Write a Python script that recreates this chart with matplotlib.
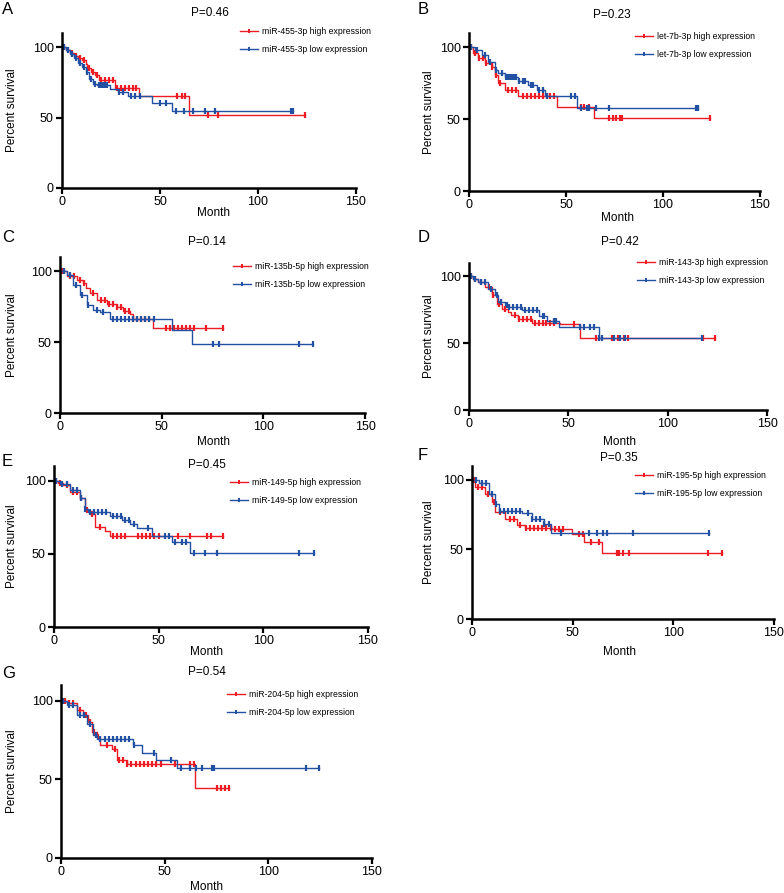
import numpy as np
import matplotlib
matplotlib.use("Agg")
import matplotlib.pyplot as plt
from matplotlib.lines import Line2D

plt.rcParams['font.family'] = ['Liberation Sans', 'DejaVu Sans']

RED = '#ec1c24'
BLUE = '#2251a3'

letters = ['A', 'B', 'C', 'D', 'E', 'F', 'G']
mirnas = ['miR-455-3p', 'let-7b-3p', 'miR-135b-5p', 'miR-143-3p',
          'miR-149-5p', 'miR-195-5p', 'miR-204-5p']
pvalues = ['0.46', '0.23', '0.14', '0.42', '0.45', '0.35', '0.54']

# step times / survival (%) for each panel, high and low expression groups
high_t = [
    [0, 2, 4, 6, 8, 10, 12, 13, 15, 17, 19, 27, 39.5, 64.8, 124],
    [0, 2, 4.8, 8, 11.7, 13.4, 15.1, 18.6, 25.4, 45.5, 64.6, 124.2],
    [0, 3.3, 8.2, 11.5, 13, 14.8, 18, 23, 27.9, 31, 34.4, 36, 45.6, 80],
    [0, 2, 4.7, 8.1, 11.4, 14, 16.5, 19.8, 21, 24.9, 31.6, 45.9, 56, 124],
    [0, 2, 4.5, 7.7, 12.4, 14.8, 17.2, 19.6, 24.4, 26.8, 80.5],
    [0, 1.7, 6.6, 10, 11.6, 16.6, 22.4, 26.5, 39.8, 49.8, 55.6, 64.7, 124.4],
    [0, 2.7, 7.6, 10.8, 13.2, 14.8, 17.2, 18.8, 24.5, 26.9, 31.7, 64.7, 80.8],
]
high_s = [
    [100, 98, 96, 94, 92, 91, 88, 85, 82, 80, 76.5, 71, 65.5, 51.5, 51.5],
    [100, 96, 92.3, 89, 86.5, 80.7, 74.9, 70.3, 66, 58.7, 50.6, 50.6],
    [100, 96.5, 94, 91.7, 88, 84.6, 79.9, 76.8, 74.5, 71.9, 69.5, 66, 59.8, 59.8],
    [100, 98, 95.8, 92, 85.8, 79.6, 75.9, 73.4, 71, 68, 65.4, 64.2, 53.7, 53.7],
    [100, 98.5, 97, 92.4, 87.8, 79.7, 77.4, 68.2, 65.6, 62, 62],
    [100, 95, 90.2, 84, 76.7, 72, 67.6, 65.7, 65, 61, 55.5, 47.8, 47.8],
    [100, 98.3, 94, 90.8, 86.5, 80, 76.9, 71.6, 69, 62.6, 59.8, 44.4, 44.4],
]
low_t = [
    [0, 2, 4, 6, 8, 10, 12, 14, 16, 18, 24.5, 28.7, 33.8, 45.7, 56, 118],
    [0, 3, 6.5, 10, 13.4, 15, 18.6, 25.4, 30.6, 35, 39.2, 55.5, 117.9],
    [0, 3.3, 6.6, 9.8, 13.1, 16.4, 19.7, 24.6, 54.9, 64.8, 124.3],
    [0, 2, 4.7, 9.7, 13.1, 14.8, 18.1, 20, 26.6, 35, 39.2, 45.4, 65.2, 117.3],
    [0, 2.9, 7.7, 12.4, 14.8, 16.4, 26.8, 32.4, 36.4, 39.6, 46.7, 56.3, 65, 124],
    [0, 3.3, 8.3, 11.6, 13.3, 24.9, 29.9, 35.7, 39, 117.8],
    [0, 2.7, 7.6, 12.4, 15.6, 17.2, 34.9, 39, 45.7, 55.9, 124.3],
]
low_s = [
    [100, 98, 95, 92, 89, 86, 82, 77, 74, 73, 70, 68, 65.5, 60.5, 54.5, 54.5],
    [100, 98, 94.6, 90, 84.2, 82, 79.5, 76.6, 73.5, 70.3, 66, 57.5, 57.5],
    [100, 97.6, 90.5, 83.5, 76.4, 72.8, 70.9, 66, 58.6, 48.5, 48.5],
    [100, 98, 95.8, 90.8, 85.8, 80.8, 78.4, 76.9, 74.6, 70.4, 66.7, 62.2, 53.7, 53.7],
    [100, 98, 93.5, 87.8, 80.8, 78.5, 75.8, 73, 70.6, 67.4, 62, 58, 50.6, 50.6],
    [100, 97.5, 90.2, 82.8, 78, 76, 72, 68, 62, 62],
    [100, 97.2, 90.8, 85.5, 78, 75.4, 71.8, 67, 62, 57.3, 57.3],
]

# censored observation times
high_c = [
    [1, 3, 5, 7, 9, 11, 14, 16, 18, 20, 22, 24, 26, 28, 30, 32, 34, 36, 38,
     58.5, 61, 62.8, 74.7, 79.8, 124],
    [1, 3, 5, 7, 9, 12, 14, 16, 20, 22, 24, 28, 30, 32, 34, 36, 38, 40, 42, 44,
     57.5, 59.5, 61.7, 72, 74, 76, 78, 79, 124],
    [1, 2, 5, 7, 10, 12, 16, 20, 22, 24, 26, 28, 30, 32, 34, 36, 38, 40, 42, 44,
     52, 54, 56, 58, 60, 62, 64, 66, 72, 80],
    [1, 3, 6, 10, 12, 15, 18, 23, 25, 27, 29, 31, 33, 35, 37, 39, 41, 43,
     53, 64, 72, 75, 78, 80, 118, 124],
    [1, 3, 6, 9, 11, 13, 16, 18, 22, 28, 30, 32, 34, 40, 42, 44, 46, 48, 50,
     59, 65, 73, 75, 80.5],
    [1, 3, 5, 8, 11, 14, 19, 21, 24, 27, 29, 31, 33, 35, 37, 39, 41, 43, 45,
     53, 55, 59, 63, 72, 73, 75, 78, 117, 124.4],
    [1, 2, 4, 6, 9, 12, 14, 16, 18, 22, 26, 28, 30, 32, 34, 36, 38, 40, 42, 44,
     46, 48, 55, 62, 64, 75, 77, 79, 80.8],
]
low_c = [
    [1, 3, 5, 7, 9, 11, 13, 15, 17, 19, 20, 21, 22, 23, 29, 31, 35, 37, 40,
     50, 53, 58, 62, 67, 73, 78, 117, 118],
    [1, 4, 8, 11, 14, 17, 19, 20, 21, 22, 23, 24, 26, 28, 29, 32, 33, 36, 38, 40,
     52.5, 54.5, 57.5, 61, 62, 65.5, 72, 117, 118],
    [2, 5, 8, 11, 14, 18, 21, 26, 28, 30, 32, 34, 36, 38, 40, 42, 44, 46,
     75, 78, 117.5, 124.3],
    [1, 3, 6, 8, 11, 14, 16, 19, 20, 22, 24, 26, 28, 30, 32, 34, 37, 38, 43, 44,
     56, 58, 61, 63, 65.5, 67, 73, 76, 78.5, 117.3],
    [1, 4, 6, 9, 11, 13, 15, 17, 19, 21, 23, 25, 28, 30, 32, 34, 36, 38, 45,
     53, 55, 58, 61, 63, 67, 72, 78, 117, 124],
    [2, 5, 7, 10, 12, 14, 16, 18, 20, 22, 24, 28, 30, 32, 34, 36, 38, 44,
     58, 62, 65, 67, 80, 117.8],
    [1, 4, 6, 9, 11, 14, 17, 19, 21, 23, 25, 27, 29, 31, 33, 35, 45, 53, 58,
     62, 65, 68, 73, 74, 118, 124.3],
]

# layout in pixels
boxes = [  # left, right, top, bottom of each axes
    (62, 356, 33, 188), (469, 760, 33, 191),
    (60, 365, 257, 413), (469, 767, 263, 410),
    (54, 368, 466, 627), (472, 774, 466, 619),
    (61, 372, 685, 858),
]
letter_pos = [(2, 9), (418, 9), (2, 237), (418, 238), (2, 462), (418, 455), (2, 673)]
title_pos = [(210, 13), (612, 15), (207, 242), (620, 242), (207, 465), (619, 458), (207, 672)]
month_pos = [(213, 213), (617, 218), (213, 442), (620, 442), (207, 652), (620, 652), (207, 887)]
ylab_x = [12, 429, 12, 429, 12, 429, 12]
legend_pos = [(240, 32), (635, 37), (233, 267), (637, 263), (230, 483), (635, 476), (227, 695)]

W, H = 784, 893
fig = plt.figure(figsize=(W / 100, H / 100), dpi=100)


def fx(x):
    return x / W


def fy(y):
    return 1 - y / H


def surv_at(t, s, c):
    idx = np.searchsorted(t, c, side='right') - 1
    return np.asarray(s)[idx]


def km(ax, t, s, c, color):
    ax.step(t, s, where='post', color=color, lw=1.0, clip_on=False)
    ax.plot(c, surv_at(t, s, c), ls='none', marker='|', ms=4, mew=1.6,
            color=color, clip_on=False)


for i in range(7):
    l, r, top, bot = boxes[i]
    ax = fig.add_axes([fx(l), fy(bot), (r - l) / W, (bot - top) / H])
    km(ax, high_t[i], high_s[i], high_c[i], RED)
    km(ax, low_t[i], low_s[i], low_c[i], BLUE)

    ax.set_xlim(0, 150)
    ax.set_ylim(0, 110)
    ax.set_xticks([0, 50, 100, 150])
    ax.set_yticks([0, 50, 100])
    for side in ['top', 'right']:
        ax.spines[side].set_visible(False)
    for side in ['left', 'bottom']:
        ax.spines[side].set_linewidth(1.8)
    ax.tick_params(width=1.6, length=4, labelsize=9, pad=2)

    ax.set_xlabel('Month', fontsize=8.5, va='center')
    ax.xaxis.set_label_coords(fx(month_pos[i][0]), fy(month_pos[i][1]),
                              transform=fig.transFigure)
    ax.set_ylabel('Percent survival', fontsize=8.5, va='center')
    ax.yaxis.set_label_coords(fx(ylab_x[i]), fy((top + bot) / 2),
                              transform=fig.transFigure)
    ax.text(fx(title_pos[i][0]), fy(title_pos[i][1]), 'P=' + pvalues[i],
            fontsize=8.5, ha='center', va='center', transform=fig.transFigure)

    handles = [
        Line2D([], [], color=RED, lw=1.0, marker='|', ms=3.5, mew=1.4),
        Line2D([], [], color=BLUE, lw=1.0, marker='|', ms=3.5, mew=1.4),
    ]
    lgx, lgy = legend_pos[i]
    ax.legend(handles, [mirnas[i] + ' high expression', mirnas[i] + ' low expression'],
              loc='upper left', bbox_to_anchor=(fx(lgx), fy(lgy - 5)),
              bbox_transform=fig.transFigure, frameon=False, borderpad=0,
              borderaxespad=0, fontsize=6.2, handlelength=2.1,
              handletextpad=0.5, labelspacing=1.1)

    lx, ly = letter_pos[i]
    fig.text(fx(lx), fy(ly), letters[i], fontsize=12, va='center', ha='left')

fig.savefig('out.png', dpi=100)
